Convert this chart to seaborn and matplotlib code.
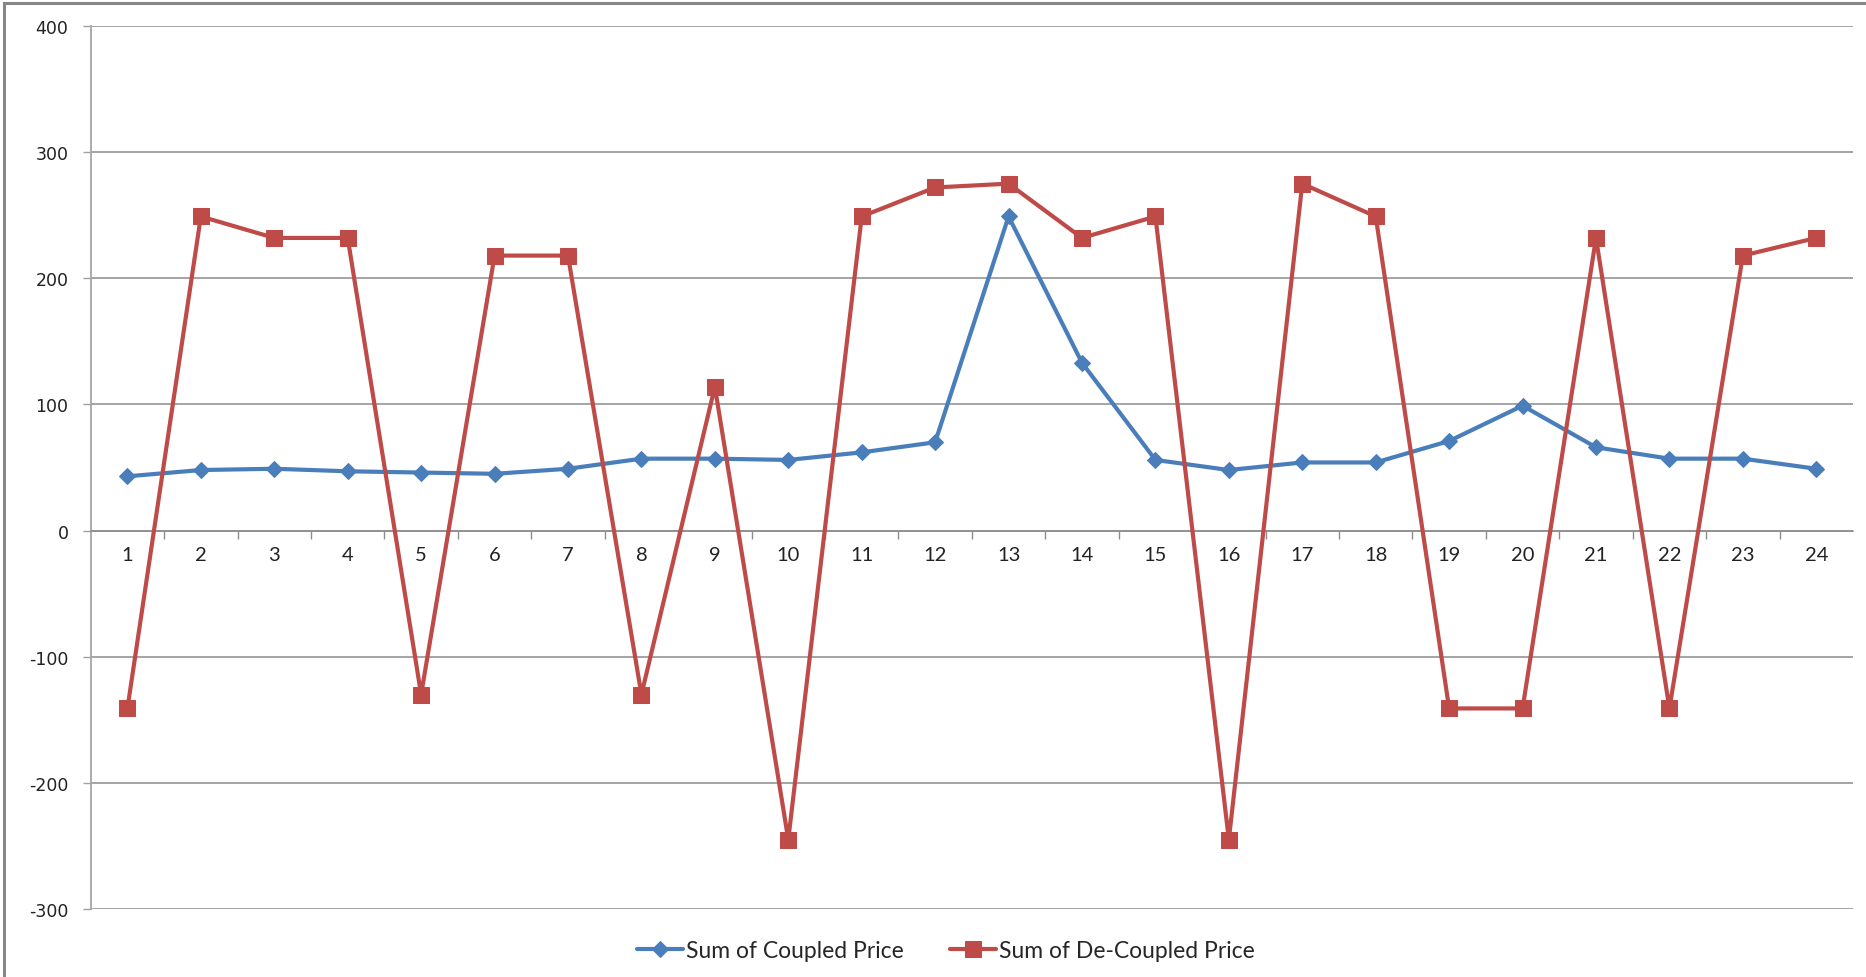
import matplotlib
matplotlib.use("Agg")
import matplotlib.pyplot as plt
import seaborn as sns
import pandas as pd
import numpy as np
from matplotlib.patches import Rectangle
from matplotlib.ticker import FixedLocator

hours = list(range(1, 25))
coupled = [43, 48, 49, 47, 46, 45, 49, 57, 57, 56, 62, 70, 249, 133, 56, 48, 54, 54, 71, 99, 66, 57, 57, 49]
decoupled = [-141, 249, 232, 232, -130, 218, 218, -130, 114, -245, 249, 272, 275, 232, 249, -245,
             275, 249, -141, -141, 232, -141, 218, 232]
series_names = ["Sum of Coupled Price", "Sum of De-Coupled Price"]
y_ticks = [-300, -200, -100, 0, 100, 200, 300, 400]

BLUE = "#4A7EBB"
RED = "#BE4B48"

sns.set_theme(style="white")
plt.rcParams["font.family"] = ["DejaVu Sans"]

W, H = 1866, 978
fig = plt.figure(figsize=(W / 100, H / 100), dpi=100)
ax = fig.add_axes([90.7 / W, 1 - 910 / H, (1853 - 90.7) / W, (910 - 27) / H])

df_c = pd.DataFrame({"hour": hours, "value": coupled})
df_d = pd.DataFrame({"hour": hours, "value": decoupled})

sns.lineplot(data=df_c, x="hour", y="value", ax=ax, color=BLUE, linewidth=3.0,
             marker="D", markersize=8.5, markeredgecolor=BLUE, label=series_names[0], zorder=3)
sns.lineplot(data=df_d, x="hour", y="value", ax=ax, color=RED, linewidth=3.0,
             marker="s", markersize=11, markeredgecolor=RED, label=series_names[1], zorder=4)

ax.set_xlim(0.5, 24.5)
ax.set_ylim(-300, 400)
ax.set_xlabel("")
ax.set_ylabel("")

# y axis
ax.set_yticks(y_ticks)
ax.set_yticklabels([str(v) for v in y_ticks], fontsize=12.5, color="#222222")
ax.yaxis.grid(True, color="#8C8C8C", linewidth=1.1)
ax.tick_params(axis="y", length=6, width=1, color="#A0A0A0", pad=10, left=True)

# x axis crossing at zero
for s in ["top", "right"]:
    ax.spines[s].set_visible(False)
ax.spines["left"].set_color("#A6A6A6")
ax.spines["left"].set_linewidth(1.3)
ax.spines["bottom"].set_position(("data", 0))
ax.spines["bottom"].set_color("#8C8C8C")
ax.spines["bottom"].set_linewidth(1.1)

ax.set_xticks(hours)
ax.set_xticklabels([str(h) for h in hours], fontsize=14.5, color="#222222", family=["Lato", "DejaVu Sans"])
ax.xaxis.set_minor_locator(FixedLocator(np.arange(1.5, 24.5, 1.0)))
ax.tick_params(axis="x", which="major", length=0, pad=11, bottom=True)
ax.tick_params(axis="x", which="minor", length=6, width=1, color="#8C8C8C", bottom=True, direction="out")

# legend
leg = ax.legend(loc="center", bbox_to_anchor=(946 / W, 1 - 952 / H), bbox_transform=fig.transFigure,
                ncol=2, frameon=False, handlelength=2.0, columnspacing=2.0, handletextpad=0.15,
                prop={"family": ["Lato", "DejaVu Sans"], "size": 16.5})
for h in leg.legend_handles:
    h.set_linewidth(3.0)

# outer chart border
fig.patches.append(Rectangle((4 / W, -0.05), 1.1, 1 - 4 / H + 0.05, transform=fig.transFigure,
                             fill=False, edgecolor="#868686", linewidth=2.2, zorder=10))

fig.savefig("out.png", dpi=100, facecolor="white")
